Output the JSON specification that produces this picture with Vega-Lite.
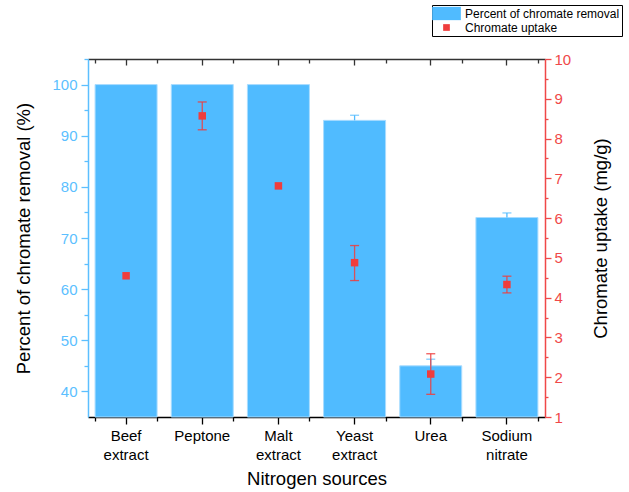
{
  "$schema": "https://vega.github.io/schema/vega-lite/v6.json",
  "width": 457,
  "height": 358,
  "autosize": {"type": "none"},
  "padding": {"left": 88, "top": 59, "right": 84, "bottom": 75},
  "config": {
    "view": {"stroke": null},
    "font": "Liberation Sans",
    "axis": {"labelFont": "Liberation Sans", "titleFont": "Liberation Sans", "grid": false, "titleFontWeight": "normal", "labelOverlap": false},
    "legend": {"labelFont": "Liberation Sans"}
  },
  "data": {
    "values": [
      {"source": "Beef extract", "pct": 100, "pct_top": null, "uptake": 4.55, "up_lo": null, "up_hi": null},
      {"source": "Peptone", "pct": 100, "pct_top": null, "uptake": 8.57, "up_lo": 8.22, "up_hi": 8.92},
      {"source": "Malt extract", "pct": 100, "pct_top": null, "uptake": 6.81, "up_lo": null, "up_hi": null},
      {"source": "Yeast extract", "pct": 93, "pct_top": 94.0, "uptake": 4.88, "up_lo": 4.43, "up_hi": 5.31},
      {"source": "Urea", "pct": 45, "pct_top": 46.3, "uptake": 2.08, "up_lo": 1.57, "up_hi": 2.59},
      {"source": "Sodium nitrate", "pct": 74, "pct_top": 74.9, "uptake": 4.33, "up_lo": 4.12, "up_hi": 4.54}
    ]
  },
  "layer": [
    {
      "layer": [
        {
          "mark": {"type": "bar", "stroke": "#A9DCFF", "strokeWidth": 1},
          "encoding": {
            "x": {
              "field": "source", "type": "nominal", "sort": null,
              "scale": {"paddingInner": 0.186, "paddingOuter": 0.093},
              "axis": {
                "orient": "bottom", "title": "Nitrogen sources",
                "labelExpr": "indexof(datum.label, ' ') > 0 ? split(datum.label, ' ') : datum.label",
                "labelAngle": 0, "labelFontSize": 15, "labelColor": "black", "labelLineHeight": 19,
                "labelPadding": 4.5, "tickSize": 7, "tickWidth": 1.3, "tickColor": "black",
                "domainColor": "black", "domainWidth": 1.5,
                "titleFontSize": 18.5, "titleColor": "black", "titlePadding": 7
              }
            },
            "y": {
              "field": "pct", "type": "quantitative",
              "scale": {"domain": [35, 105], "nice": false, "zero": false},
              "axis": {
                "orient": "left", "title": "Percent of chromate removal (%)",
                "values": [40, 50, 60, 70, 80, 90, 100],
                "tickSize": 7, "tickWidth": 1.3, "tickColor": "#5CBFFF", "domainColor": "#5CBFFF", "domainWidth": 1.5,
                "labelColor": "#5CBFFF", "labelFontSize": 15, "labelPadding": 4,
                "titleFontSize": 18.5, "titleColor": "black", "titlePadding": 18
              }
            },
            "y2": {"datum": 35},
            "color": {
              "datum": "Percent of chromate removal", "type": "nominal",
              "scale": {"domain": ["Percent of chromate removal", "Chromate uptake"], "range": ["#50BBFF", "#EF3D3D"]},
              "legend": {
                "orient": "none", "legendX": 344, "legendY": -54, "title": null,
                "strokeColor": "black", "padding": 2, "labelFontSize": 12, "labelColor": "black",
                "symbolType": "square", "symbolSize": 150, "symbolOffset": 6, "labelOffset": 12,
                "rowPadding": 0, "symbolStrokeWidth": 0, "symbolOpacity": 1,
                "encode": {
                  "symbols": {
                    "update": {
                      "shape": {"signal": "datum.value == 'Chromate uptake' ? 'square' : 'M-2.344,-1.086H2.344V1.086H-2.344Z'"},
                      "size": {"signal": "datum.value == 'Chromate uptake' ? 45 : 150"}
                    }
                  }
                }
              }
            }
          }
        },
        {
          "transform": [{"filter": "datum.pct_top != null"}],
          "mark": {"type": "rule", "color": "#50BBFF", "strokeWidth": 1.3},
          "encoding": {
            "x": {"field": "source", "type": "nominal", "sort": null},
            "y": {
              "field": "pct", "type": "quantitative",
              "axis": {
                "orient": "left", "title": null, "labels": false, "domain": false,
                "values": [45, 55, 65, 75, 85, 95, 105],
                "tickSize": 4, "tickWidth": 1.3, "tickColor": "#5CBFFF"
              }
            },
            "y2": {"field": "pct_top"}
          }
        },
        {
          "transform": [{"filter": "datum.pct_top != null"}],
          "mark": {"type": "tick", "orient": "horizontal", "color": "#50BBFF", "size": 9, "thickness": 1.3},
          "encoding": {
            "x": {"field": "source", "type": "nominal", "sort": null},
            "y": {"field": "pct_top", "type": "quantitative", "axis": null}
          }
        }
      ],
      "resolve": {"axis": {"y": "independent"}}
    },
    {
      "layer": [
        {
          "transform": [{"filter": "datum.up_lo != null"}],
          "mark": {"type": "rule", "color": "#EF3D3D", "strokeWidth": 1.3, "opacity": 0.85},
          "encoding": {
            "x": {
              "field": "source", "type": "nominal", "sort": null,
              "axis": {
                "orient": "top", "title": null, "labels": false, "ticks": false,
                "domainColor": "#333333", "domainWidth": 1.5
              }
            },
            "y": {
              "field": "up_lo", "type": "quantitative",
              "scale": {"domain": [1, 10], "nice": false, "zero": false},
              "axis": {
                "orient": "right", "title": "Chromate uptake (mg/g)", "titleAngle": 270,
                "values": [1, 2, 3, 4, 5, 6, 7, 8, 9, 10],
                "tickSize": 6, "tickWidth": 1.3, "tickColor": "#F04848", "domainColor": "#F04848", "domainWidth": 1.5,
                "labelColor": "#F04848", "labelFontSize": 15, "labelPadding": 3,
                "titleFontSize": 18.5, "titleColor": "black", "titlePadding": 40
              }
            },
            "y2": {"field": "up_hi"}
          }
        },
        {
          "transform": [{"filter": "datum.up_lo != null"}],
          "mark": {"type": "tick", "orient": "horizontal", "color": "#EF3D3D", "size": 9, "thickness": 1.3, "opacity": 0.85},
          "encoding": {
            "x": {"field": "source", "type": "nominal", "sort": null},
            "y": {
              "field": "up_lo", "type": "quantitative",
              "axis": {
                "orient": "right", "title": null, "labels": false, "domain": false,
                "values": [1.5, 2.5, 3.5, 4.5, 5.5, 6.5, 7.5, 8.5, 9.5],
                "tickSize": 3, "tickWidth": 1.3, "tickColor": "#F04848"
              }
            }
          }
        },
        {
          "transform": [{"filter": "datum.up_hi != null"}],
          "mark": {"type": "tick", "orient": "horizontal", "color": "#EF3D3D", "size": 9, "thickness": 1.3, "opacity": 0.85},
          "encoding": {
            "x": {"field": "source", "type": "nominal", "sort": null},
            "y": {"field": "up_hi", "type": "quantitative", "axis": null}
          }
        },
        {
          "mark": {"type": "point", "shape": "square", "filled": true, "size": 56, "opacity": 1},
          "encoding": {
            "x": {"field": "source", "type": "nominal", "sort": null},
            "y": {"field": "uptake", "type": "quantitative", "axis": null},
            "color": {
              "datum": "Chromate uptake", "type": "nominal",
              "legend": {
                "orient": "none", "legendX": 344, "legendY": -54, "title": null,
                "strokeColor": "black", "padding": 2, "labelFontSize": 12, "labelColor": "black",
                "symbolType": "square", "symbolSize": 150, "symbolOffset": 6, "labelOffset": 12,
                "rowPadding": 0, "symbolStrokeWidth": 0, "symbolOpacity": 1,
                "encode": {
                  "symbols": {
                    "update": {
                      "shape": {"signal": "datum.value == 'Chromate uptake' ? 'square' : 'M-2.344,-1.086H2.344V1.086H-2.344Z'"},
                      "size": {"signal": "datum.value == 'Chromate uptake' ? 45 : 150"}
                    }
                  }
                }
              }
            }
          }
        }
      ],
      "resolve": {"axis": {"y": "independent"}}
    },
    {
      "mark": {"type": "point", "opacity": 0},
      "encoding": {
        "x": {
          "field": "source", "type": "nominal", "sort": null,
          "axis": {"orient": "bottom", "title": null, "labels": false, "domain": false, "tickBand": "extent", "tickSize": 4, "tickWidth": 1.3, "tickColor": "black"}
        }
      }
    },
    {
      "mark": {"type": "point", "opacity": 0},
      "encoding": {
        "x": {
          "field": "source", "type": "nominal", "sort": null,
          "axis": {"orient": "top", "title": null, "labels": false, "domain": false, "tickBand": "extent", "offset": -4, "tickSize": 4, "tickWidth": 1.3, "tickColor": "#333333"}
        }
      }
    },
    {
      "mark": {"type": "point", "opacity": 0},
      "encoding": {
        "x": {
          "field": "source", "type": "nominal", "sort": null,
          "axis": {"orient": "top", "title": null, "labels": false, "domain": false, "offset": -6, "tickSize": 6, "tickWidth": 1.3, "tickColor": "#333333"}
        }
      }
    }
  ],
  "resolve": {"scale": {"y": "independent"}, "axis": {"x": "independent", "y": "independent"}}
}
